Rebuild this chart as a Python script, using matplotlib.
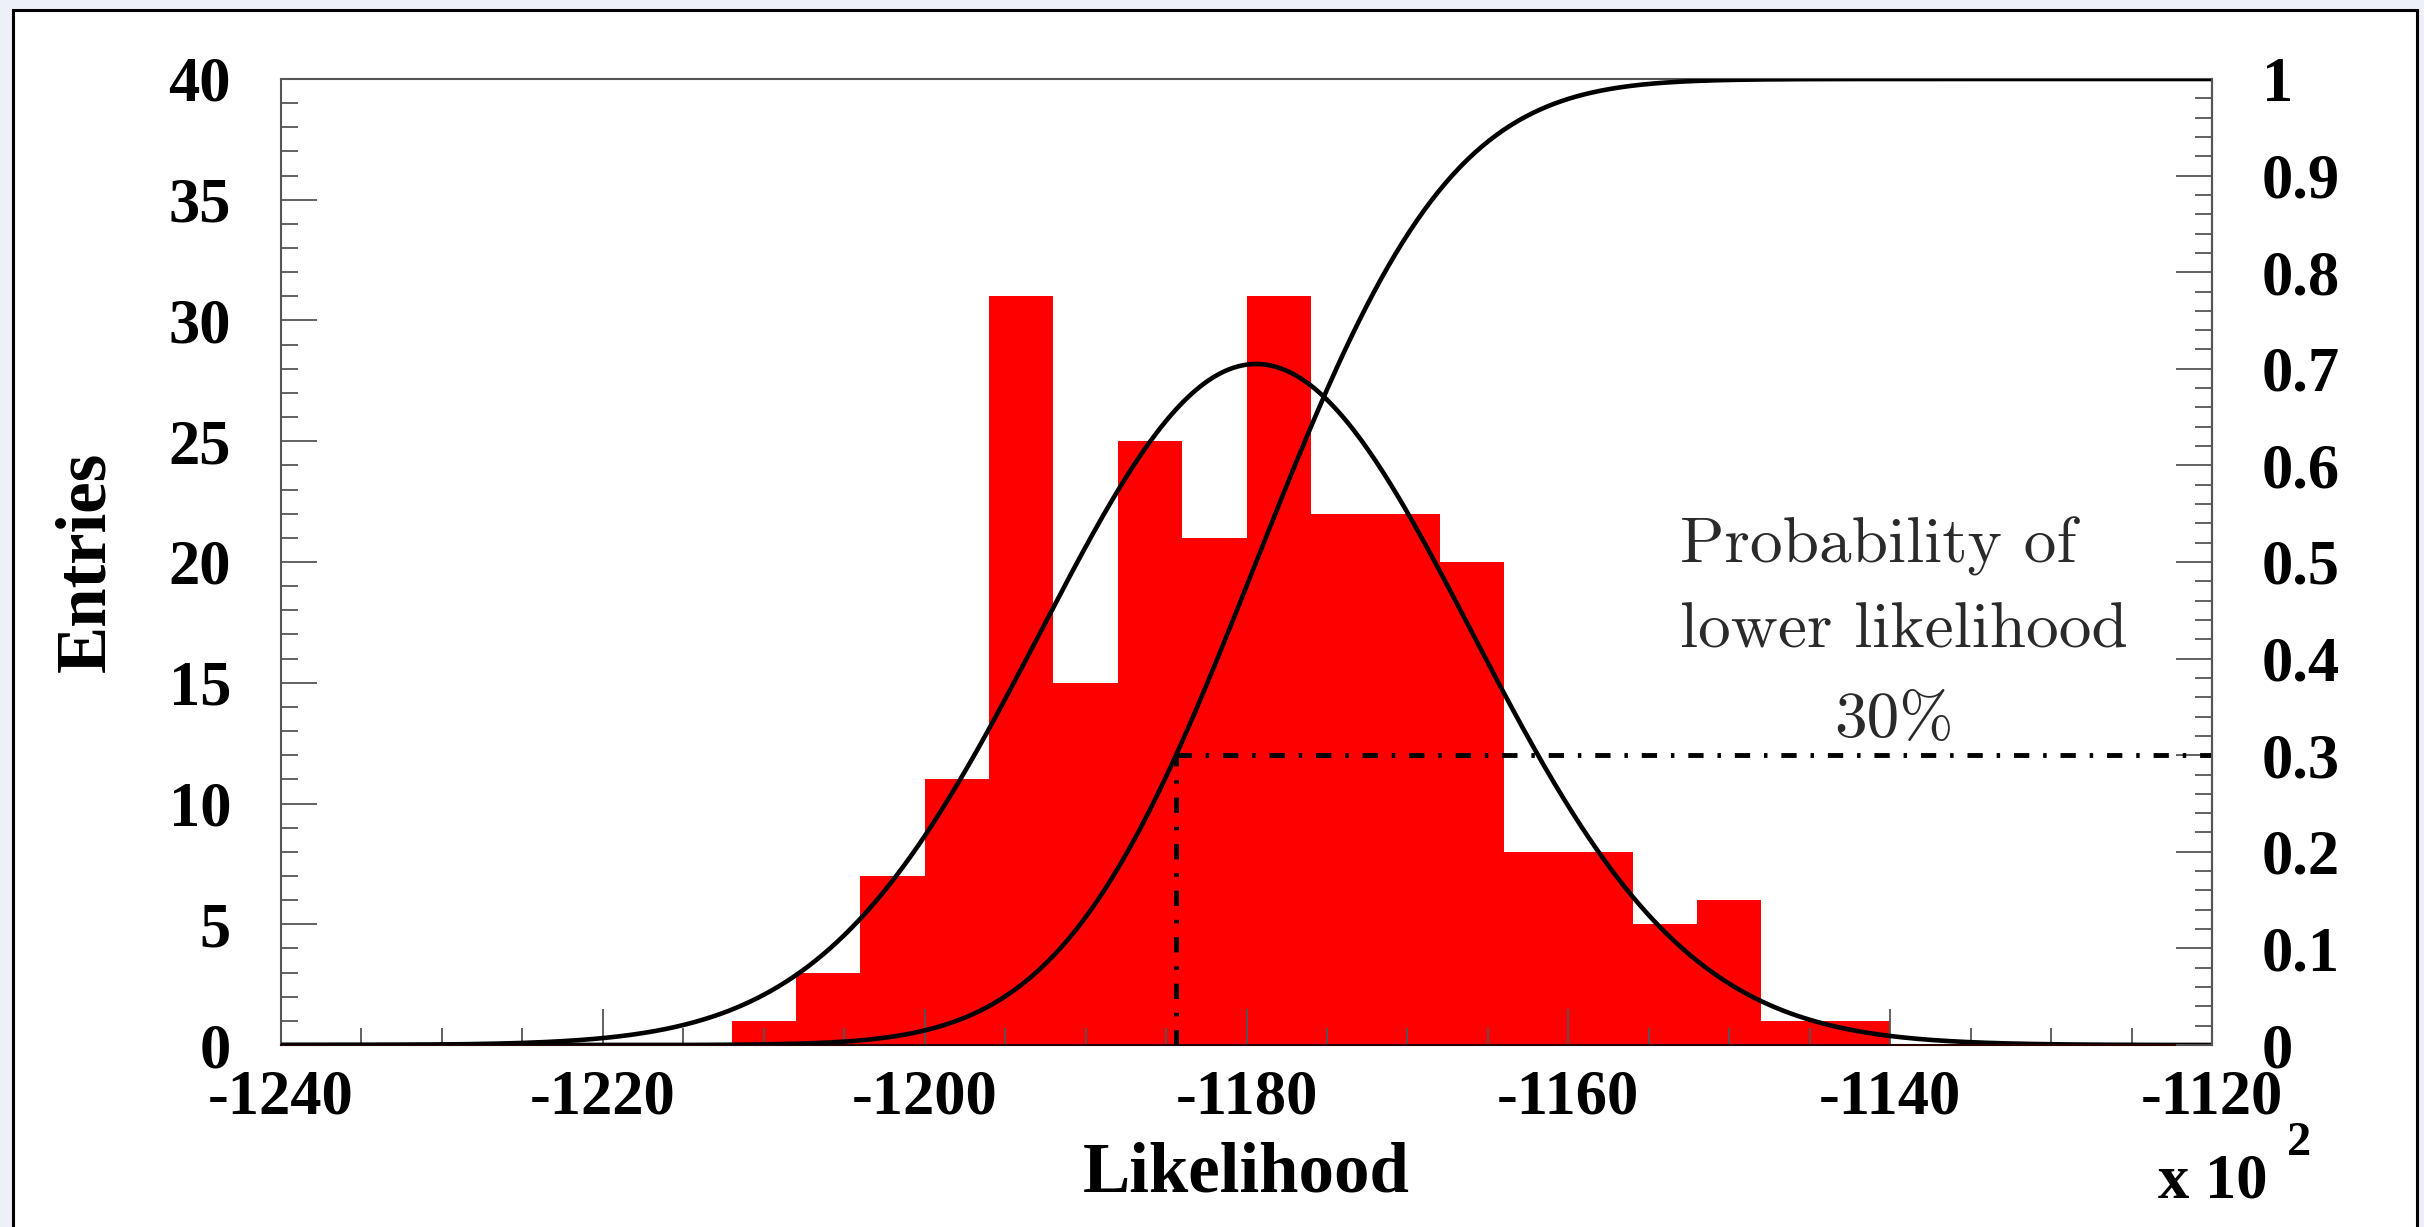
import math
import numpy as np
import matplotlib
matplotlib.use("Agg")
import matplotlib.pyplot as plt
from matplotlib.ticker import MultipleLocator
from matplotlib.patches import Rectangle

# likelihood histogram (x in units of 10^2)
bin_start = -1212
bin_width = 4
counts = [1, 3, 7, 11, 31, 15, 25, 21, 31, 22, 22, 20, 8, 8, 5, 6, 1, 1]

# gaussian fit and cumulative probability curve
fit_amp, fit_mean, fit_sigma = 28.2, -1179.4, 13.4
cdf_mean, cdf_sigma = -1179.4, 9.5

# observed value and its probability
cut_x = -1184.4
cut_prob = 0.3

x_ticks = [-1240, -1220, -1200, -1180, -1160, -1140, -1120]
left_ticks = [0, 5, 10, 15, 20, 25, 30, 35, 40]
right_ticks = [0, 0.1, 0.2, 0.3, 0.4, 0.5, 0.6, 0.7, 0.8, 0.9, 1]
right_labels = ["0", "0.1", "0.2", "0.3", "0.4", "0.5", "0.6", "0.7", "0.8", "0.9", "1"]

plt.rcParams["axes.unicode_minus"] = False
plt.rcParams["lines.scale_dashes"] = False
bold = dict(family="Liberation Serif", weight="bold")

W, H = 2424, 1227
fig = plt.figure(figsize=(W / 100, H / 100), dpi=100, facecolor="#edf1f7")
fig.patches.append(Rectangle((13 / W, -0.02), (2417 - 13) / W, 1.02 - 10 / H,
                             transform=fig.transFigure, facecolor="white",
                             edgecolor="black", lw=2.2, zorder=-5))

ax = fig.add_axes([281 / W, 1 - 1045 / H, (2212 - 281) / W, (1045 - 79) / H])
ax2 = ax.twinx()

edges = bin_start + bin_width * np.arange(len(counts) + 1)
ax.stairs(counts, edges, fill=True, color="#ff0000", lw=0)

xs = np.linspace(x_ticks[0], x_ticks[-1], 800)
gauss = fit_amp * np.exp(-0.5 * ((xs - fit_mean) / fit_sigma) ** 2)
ax.plot(xs, gauss, color="black", lw=3.3)

cdf = [0.5 * (1 + math.erf((x - cdf_mean) / (cdf_sigma * math.sqrt(2)))) for x in xs]
ax2.plot(xs, cdf, color="black", lw=3.3)

dd = (11, 10, 2.5, 10)
ax2.plot([cut_x, cut_x], [0, cut_prob], color="black", lw=3.5, dashes=dd)
ax2.plot([cut_x, x_ticks[-1]], [cut_prob, cut_prob], color="black", lw=3.5, dashes=dd)

ax.set_xlim(x_ticks[0], x_ticks[-1])
ax.set_ylim(0, 40)
ax2.set_ylim(0, 1)

ax.set_xticks(x_ticks)
ax.set_xticklabels([str(v) for v in x_ticks], **bold, fontsize=45)
ax.xaxis.set_minor_locator(MultipleLocator(5))
ax.set_yticks(left_ticks)
ax.set_yticklabels([str(v) for v in left_ticks], **bold, fontsize=45)
ax.yaxis.set_minor_locator(MultipleLocator(1))
ax2.set_yticks(right_ticks)
ax2.set_yticklabels(right_labels, **bold, fontsize=45)
ax2.yaxis.set_minor_locator(MultipleLocator(0.02))

tc = "#555555"
ax.tick_params(axis="x", which="both", direction="in", bottom=True, top=False,
               color=tc, width=1.3, pad=18)
ax.tick_params(axis="x", which="major", length=26)
ax.tick_params(axis="x", which="minor", length=12.5)
ax.tick_params(axis="y", which="both", direction="in", left=True, right=False,
               color=tc, width=1.3, pad=36)
ax.tick_params(axis="y", which="major", length=26)
ax.tick_params(axis="y", which="minor", length=12.5)
ax2.tick_params(axis="y", which="both", direction="in", right=True, left=False,
                color=tc, width=1.3, pad=36)
ax2.tick_params(axis="y", which="major", length=26)
ax2.tick_params(axis="y", which="minor", length=12.5)

for a in (ax, ax2):
    for s in a.spines.values():
        s.set_color(tc)
        s.set_linewidth(1.5)
ax.spines["bottom"].set_color("#2a0000")
for s in ("left", "top", "bottom"):
    ax2.spines[s].set_visible(False)

fig.text(1246 / W, 1 - 1192 / H, "Likelihood", **bold, fontsize=51,
         ha="center", va="baseline")
fig.text(87 / W, 1 - 562 / H, "Entries", **bold, fontsize=51,
         rotation=90, ha="center", va="center")
fig.text(2158 / W, 1 - 1198 / H, "x 10", **bold, fontsize=45, ha="left", va="baseline")
fig.text(2287 / W, 1 - 1155 / H, "2", **bold, fontsize=35, ha="left", va="baseline")

note = dict(family="cmr10", fontsize=47, color="#2a2a2a")
fig.text(1680 / W, 1 - 562 / H, "Probability of", ha="left", va="baseline", **note)
fig.text(1680 / W, 1 - 648 / H, "lower likelihood", ha="left", va="baseline", **note)
fig.text(1894 / W, 1 - 737 / H, "30%", ha="center", va="baseline", **note)

fig.savefig("out.png", dpi=100, facecolor=fig.get_facecolor())
